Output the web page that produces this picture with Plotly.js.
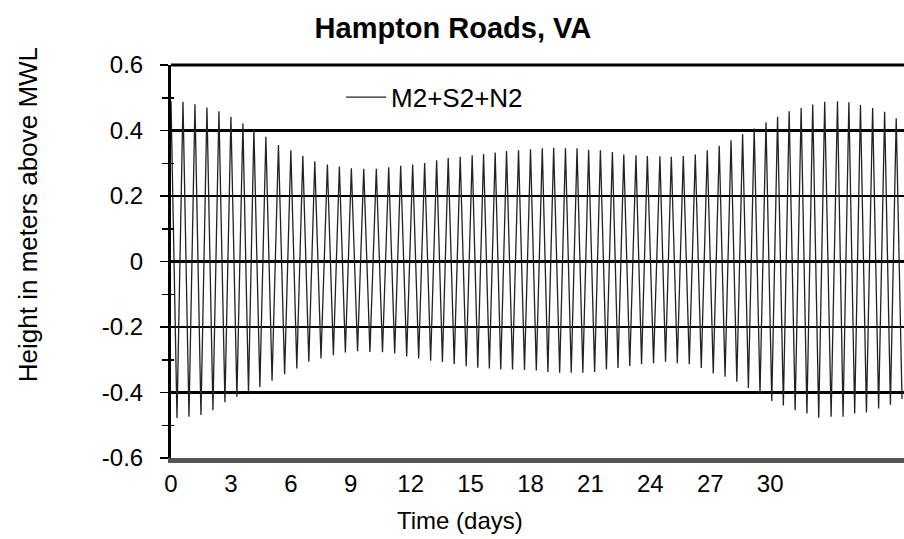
<!DOCTYPE html>
<html>
<head>
<meta charset="utf-8">
<script src="https://cdn.plot.ly/plotly-3.0.1.min.js"></script>
<style>html,body{margin:0;padding:0;background:#fff;}#chart{width:904px;height:539px;}</style>
</head>
<body>
<div id="chart"></div>
<script>
// High waters (time in days, height in m above MWL)
const highTimes = [0.00, 0.60, 1.20, 1.80, 2.40, 3.00, 3.60, 4.15, 4.75, 5.38, 6.00, 6.60, 7.20, 7.83, 8.43, 9.03, 9.65, 10.28, 10.90, 11.50, 12.10, 12.70, 13.30, 13.88, 14.48, 15.08, 15.65, 16.23, 16.80, 17.40, 18.00, 18.59, 19.16, 19.75, 20.33, 20.91, 21.50, 22.10, 22.67, 23.28, 23.85, 24.48, 25.05, 25.65, 26.25, 26.85, 27.45, 28.04, 28.62, 29.20, 29.79, 30.37, 30.95, 31.55, 32.13, 32.73, 33.37, 33.94, 34.52, 35.13, 35.73, 36.31];
const highValues = [0.49, 0.488, 0.48, 0.47, 0.459, 0.442, 0.421, 0.403, 0.381, 0.356, 0.340, 0.323, 0.306, 0.296, 0.29, 0.285, 0.283, 0.283, 0.288, 0.292, 0.296, 0.301, 0.309, 0.316, 0.320, 0.324, 0.328, 0.333, 0.337, 0.340, 0.343, 0.346, 0.347, 0.346, 0.346, 0.341, 0.340, 0.334, 0.327, 0.324, 0.322, 0.321, 0.320, 0.322, 0.327, 0.340, 0.353, 0.370, 0.389, 0.406, 0.425, 0.442, 0.459, 0.469, 0.479, 0.488, 0.489, 0.486, 0.478, 0.469, 0.457, 0.437];
// Low waters
const lowTimes = [0.30, 0.90, 1.50, 2.10, 2.70, 3.30, 3.88, 4.45, 5.06, 5.69, 6.30, 6.90, 7.51, 8.13, 8.73, 9.34, 9.96, 10.59, 11.20, 11.80, 12.40, 13.00, 13.59, 14.18, 14.78, 15.36, 15.94, 16.51, 17.10, 17.70, 18.29, 18.87, 19.46, 20.04, 20.62, 21.21, 21.80, 22.38, 22.97, 23.56, 24.16, 24.76, 25.35, 25.95, 26.55, 27.15, 27.74, 28.33, 28.91, 29.49, 30.08, 30.66, 31.25, 31.84, 32.43, 33.05, 33.65, 34.23, 34.82, 35.43, 36.02, 36.60];
const lowValues = [-0.478, -0.474, -0.469, -0.454, -0.43, -0.413, -0.40, -0.383, -0.364, -0.344, -0.327, -0.306, -0.296, -0.286, -0.278, -0.274, -0.276, -0.277, -0.281, -0.29, -0.296, -0.303, -0.307, -0.313, -0.32, -0.324, -0.327, -0.33, -0.33, -0.331, -0.333, -0.337, -0.34, -0.34, -0.34, -0.337, -0.33, -0.325, -0.319, -0.314, -0.311, -0.306, -0.311, -0.314, -0.325, -0.342, -0.352, -0.367, -0.386, -0.403, -0.426, -0.44, -0.454, -0.464, -0.477, -0.474, -0.474, -0.464, -0.461, -0.449, -0.437, -0.42];

const xTickVals = [0, 3, 6, 9, 12, 15, 18, 21, 24, 27, 30];
const yTickVals = [-0.6, -0.4, -0.2, 0, 0.2, 0.4, 0.6];
const yTickText = ['-0.6', '-0.4', '-0.2', '0', '0.2', '0.4', '0.6'];
const seriesName = 'M2+S2+N2';
const chartTitle = 'Hampton Roads, VA';
const xTitle = 'Time (days)';
const yTitle = 'Height in meters above MWL';

// interleave highs and lows in time order
const tx = [], ty = [];
for (let i = 0; i < highTimes.length; i++) {
  tx.push(highTimes[i]); ty.push(highValues[i]);
  if (i < lowTimes.length) { tx.push(lowTimes[i]); ty.push(lowValues[i]); }
}

const font = 'Liberation Sans, Arial, sans-serif';
const trace = {
  x: tx, y: ty, type: 'scatter', mode: 'lines', name: seriesName,
  line: {color: '#222', width: 1.3}, showlegend: true
};

const layout = {
  width: 904, height: 539,
  margin: {l: 171, r: 0, t: 65, b: 81},
  paper_bgcolor: '#fff', plot_bgcolor: '#fff',
  title: {
    text: '<b>' + chartTitle + '</b>',
    font: {family: 'Liberation Sans Narrow, Arial Narrow, Liberation Sans, sans-serif', size: 29, color: '#000'},
    xref: 'container', x: 0.501, xanchor: 'center',
    yref: 'container', y: 0.948, yanchor: 'middle'
  },
  xaxis: {
    range: [0, 36.7], tickvals: xTickVals, ticktext: xTickVals.map(String),
    ticks: '', ticklabelstandoff: 0,
    showgrid: false, zeroline: false,
    showline: true, linecolor: '#555', linewidth: 5,
    tickfont: {family: font, size: 24, color: '#000'}
  },
  yaxis: {
    range: [-0.6, 0.6], tickvals: yTickVals, ticktext: yTickText,
    ticks: 'outside', ticklen: 8, tickwidth: 1.5, tickcolor: '#000',
    ticklabelstandoff: 12,
    minor: {dtick: 0.1, ticks: 'outside', ticklen: 6, tickwidth: 1.5, tickcolor: '#000', showgrid: false},
    showgrid: true, gridcolor: '#000', gridwidth: 2.2,
    zeroline: false,
    showline: true, linecolor: '#000', linewidth: 3,
    tickfont: {family: font, size: 24, color: '#000'}
  },
  yaxis2: {
    range: [-0.6, 0.6], overlaying: 'y', side: 'left', tickvals: yTickVals,
    ticks: 'inside', ticklen: 4, tickwidth: 1.5, tickcolor: '#000',
    minor: {dtick: 0.1, ticks: 'inside', ticklen: 3, tickwidth: 1.5, tickcolor: '#000'},
    showticklabels: false, showgrid: false, zeroline: false, showline: false
  },
  annotations: [
    {text: xTitle, xref: 'paper', yref: 'paper', x: 0.394, y: -0.158, xanchor: 'center', yanchor: 'middle',
     showarrow: false, font: {family: font, size: 24, color: '#000'}},
    {text: yTitle, xref: 'paper', yref: 'paper', x: -0.195, y: 0.618, xanchor: 'center', yanchor: 'middle',
     textangle: -90, showarrow: false, font: {family: font, size: 26, color: '#000'}}
  ],
  shapes: [
    {type: 'line', xref: 'paper', yref: 'paper', x0: 0, x1: 1, y0: 1, y1: 1, line: {color: '#000', width: 3}}
  ],
  legend: {
    x: 0.232, y: 0.918, xanchor: 'left', yanchor: 'middle',
    itemwidth: 40,
    bgcolor: 'rgba(0,0,0,0)', borderwidth: 0,
    font: {family: font, size: 26, color: '#000'}
  },
  showlegend: true
};

const dummy = {x: [null], y: [null], yaxis: 'y2', type: 'scatter', mode: 'lines', showlegend: false, hoverinfo: 'skip'};

Plotly.newPlot('chart', [trace, dummy], layout, {staticPlot: true});
</script>
</body>
</html>
